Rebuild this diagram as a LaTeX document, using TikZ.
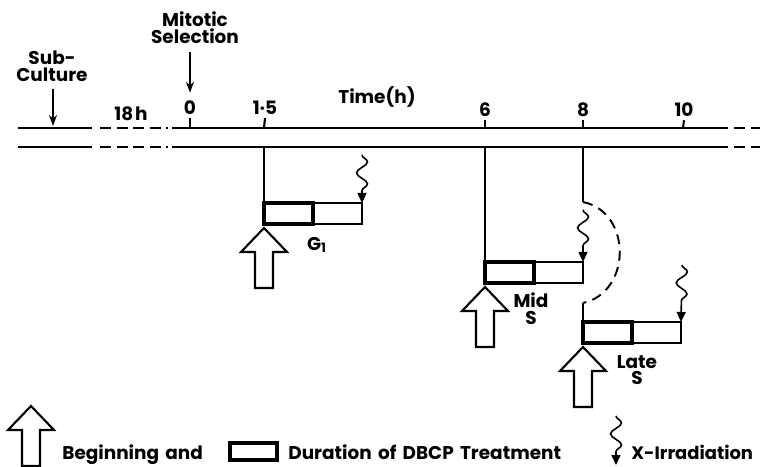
\documentclass[tikz,border=0pt]{standalone}
\usepackage{fontspec}
\setmainfont{Poppins}[WordSpace=1.6]
\usetikzlibrary{arrows.meta,positioning,decorations.pathmorphing}
\tikzset{
startarrow/.pic={\draw[line width=1.2pt,line join=miter,fill=white] (0,0) -- (23,24) -- (9,24) -- (9,60) -- (-9,60) -- (-9,24) -- (-23,24) -- cycle;}
}

\begin{document}
\begin{tikzpicture}[x=0.2mm,y=-0.2mm,
lbl/.style={font=\fontsize{10.5}{9.5}\selectfont\bfseries,inner sep=0pt,align=center},
axis/.style={line width=1.4pt},
axisgap/.style={line width=1.4pt,dash pattern=on 2.2mm off 1.1mm},
tick/.style={line width=1.2pt},
drop/.style={line width=1.1pt},
pointer/.style={-{Stealth[length=2.2mm,width=1.6mm]},line width=0.9pt},
dbcpbox/.style={draw,line width=2.2pt,minimum width=9.8mm,minimum height=4.2mm,inner sep=0pt,outer sep=0pt},
restbox/.style={draw,line width=0.7pt,minimum width=9.8mm,minimum height=4.2mm,inner sep=0pt,outer sep=0pt},
xray/.style={-{Triangle[length=2mm,width=1.8mm]},line width=0.9pt,decorate,decoration={snake,amplitude=1.1mm,segment length=4.4mm,post length=2.4mm}}]
\useasboundingbox (0,0) rectangle (760,467);
% time axis
\draw[axis] (18,128) -- (92,128);
\draw[axisgap] (100,128) -- (168,128);
\draw[axis] (172,128) -- (728,128);
\draw[axisgap] (734,128) -- (760,128);
\draw[axis] (18,147) -- (92,147);
\draw[axisgap] (100,147) -- (168,147);
\draw[axis] (172,147) -- (728,147);
\draw[axisgap] (734,147) -- (760,147);
\coordinate (a0) at (190,128);
\coordinate (a15) at (264,128);
\coordinate (a6) at (485,128);
\coordinate (a8) at (583,128);
\coordinate (a10) at (683,128);
\coordinate (b15) at (264,147);
\coordinate (b6) at (485,147);
\coordinate (b8) at (583,147);
\coordinate (subtip) at (53,126);
\node[lbl] (t0) at (190,108) {0};
\node[lbl] (t15) at (265,108) {1·5};
\node[lbl] (t6) at (485,110) {6};
\node[lbl] (t8) at (583,110) {8};
\node[lbl] (t10) at (684,110) {10};
\node[lbl] (timeh) at (377,97) {Time(h)};
\node[lbl] (h18) at (131,114) {18\kern1pt h};
\draw[tick] (a0) -- ([yshift=-0.6mm]t0.south);
\draw[tick] (a15) -- ([yshift=-0.6mm]t15.south);
\draw[tick] (a6) -- ([yshift=-0.6mm]t6.south);
\draw[tick] (a8) -- ([yshift=-0.6mm]t8.south);
\draw[tick] (a10) -- ([yshift=-0.6mm]t10.south);
% events before time zero
\node[lbl] (subculture) at (52,66) {Sub-\\Culture};
\node[lbl] (mitotic) at (195,28) {Mitotic\\Selection};
\draw[pointer,shorten <=1.4mm] (subculture.south -| subtip) -- (subtip);
\draw[pointer,shorten <=1.6mm,shorten >=1.6mm] (mitotic.south -| t0) -- (t0.north);
% DBCP treatments
\node[dbcpbox,anchor=north west] (g1dbcp) at (264,203) {};
\node[restbox,anchor=west] (g1rest) at (g1dbcp.east) {};
\node[dbcpbox,anchor=north west] (middbcp) at (485,262) {};
\node[restbox,anchor=west] (midrest) at (middbcp.east) {};
\node[dbcpbox,anchor=north west] (latedbcp) at (583,322) {};
\node[restbox,anchor=west] (laterest) at (latedbcp.east) {};
\draw[drop] (b15) -- (g1dbcp.south west);
\draw[drop] (b6) -- (middbcp.south west);
\coordinate (arcin) at (583,202);
\coordinate (arcout) at (583,303);
\draw[drop] (b8) -- (arcin);
\draw[drop,dash pattern=on 2mm off 1.3mm] (arcin) .. controls (632,212) and (632,292) .. (arcout);
\draw[drop] (arcout) -- (latedbcp.south west);
\pic at ([yshift=-0.8mm]g1dbcp.south west) {startarrow};
\pic at ([yshift=-0.8mm]middbcp.south west) {startarrow};
\pic at ([yshift=-0.8mm]latedbcp.south west) {startarrow};
\node[lbl] (g1lab) at (317,245) {G\textsubscript{1}};
\node[lbl] (midlab) at (531,309) {Mid\\S};
\node[lbl] (latelab) at (637,370) {Late\\S};
% X-irradiation
\coordinate (g1ray) at (362,155);
\coordinate (midray) at (583,210);
\coordinate (lateray) at (682,265);
\draw[xray] (g1ray) -- (g1rest.north east);
\draw[xray] (midray) -- (midrest.north east);
\draw[xray] (lateray) -- (laterest.north east);
% legend
\pic at (31,406) {startarrow};
\node[lbl,anchor=base west] (legbegin) at (62,459) {Beginning and};
\node[dbcpbox,anchor=south west,minimum width=9.4mm,minimum height=3.4mm] (legbox) at (230,460) {};
\node[lbl,anchor=base west] (legdur) at (288,459) {Duration of DBCP Treatment};
\coordinate (legray) at (616,416);
\coordinate (legtip) at (616,465);
\draw[xray] (legray) -- (legtip);
\node[lbl,anchor=base west,font=\fontsize{10.2}{9.5}\selectfont\bfseries] (legxray) at (631,459) {X-Irradiation};
\end{tikzpicture}
\end{document}
